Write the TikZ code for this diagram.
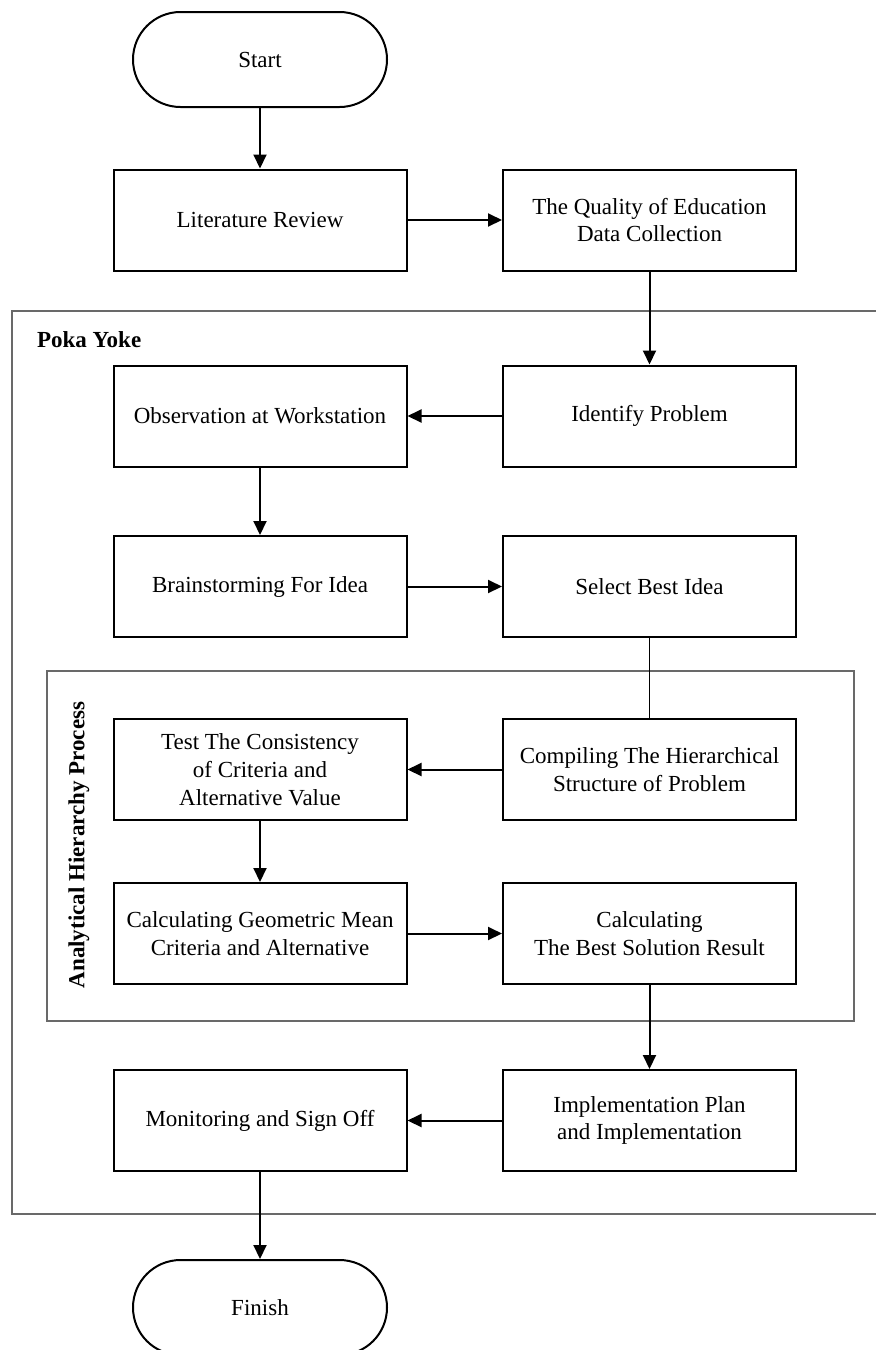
\documentclass[tikz,border=0pt]{standalone}
\usepackage{fontspec}
\setmainfont{Liberation Serif}
\usetikzlibrary{arrows.meta}
\definecolor{framegray}{RGB}{105,105,105}
\begin{document}
\begin{tikzpicture}[x=0.5pt,y=-0.5pt,
  font=\fontsize{11.5}{13.9}\selectfont,
  procbox/.style={draw=black,line width=1pt,rectangle,minimum width=146.5pt,minimum height=50.5pt,align=center,inner sep=2pt},
  termbox/.style={draw=black,line width=1pt,rectangle,rounded corners=23.75pt,minimum width=127pt,minimum height=47.5pt,align=center},
  flow/.style={line width=1pt,-{Triangle[length=7pt,width=6.5pt]}},
  plain/.style={line width=0.5pt},
  frame/.style={draw=framegray,line width=0.6pt}]
\clip (0,0) rectangle (876,1350);

% group frames
\draw[frame] (876,311) -- (12,311) -- (12,1214) -- (876,1214);
\draw[frame] (47,671) rectangle (854,1021);
\node[font=\fontsize{11.5}{13.9}\selectfont\bfseries,anchor=west] (poka) at (30,340) {Poka Yoke};
\node[font=\fontsize{11.5}{13.9}\selectfont\bfseries,rotate=90] (ahp) at (79,845) {Analytical Hierarchy Process};

% steps
\node[termbox] (start) at (260,59.5) {Start};
\node[procbox] (lit) at (260,220) {Literature Review};
\node[procbox] (qual) at (649.5,220) {The Quality of Education\\Data Collection};
\node[procbox] (ident) at (649.5,416) {Identify Problem};
\node[procbox] (obs) at (260,416) {Observation at Workstation};
\node[procbox] (brain) at (260,586.5) {Brainstorming For Idea};
\node[procbox] (select) at (649.5,586.5) {Select Best Idea};
\node[procbox] (comp) at (649.5,769.5) {Compiling The Hierarchical\\Structure of Problem};
\node[procbox] (test) at (260,769.5) {Test The Consistency\\of Criteria and\\Alternative Value};
\node[procbox] (geo) at (260,933.5) {Calculating Geometric Mean\\Criteria and Alternative};
\node[procbox] (best) at (649.5,933.5) {Calculating\\The Best Solution Result};
\node[procbox] (impl) at (649.5,1120.5) {Implementation Plan\\and Implementation};
\node[procbox] (mon) at (260,1120.5) {Monitoring and Sign Off};
\node[termbox] (finish) at (260,1307.5) {Finish};

% connectors
\draw[flow] (start) -- (lit);
\draw[flow] (lit) -- (qual);
\draw[flow] (qual) -- (ident);
\draw[flow] (ident) -- (obs);
\draw[flow] (obs) -- (brain);
\draw[flow] (brain) -- (select);
\draw[plain] (select) -- (comp);
\draw[flow] (comp) -- (test);
\draw[flow] (test) -- (geo);
\draw[flow] (geo) -- (best);
\draw[flow] (best) -- (impl);
\draw[flow] (impl) -- (mon);
\draw[flow] (mon) -- (finish);
\end{tikzpicture}
\end{document}
